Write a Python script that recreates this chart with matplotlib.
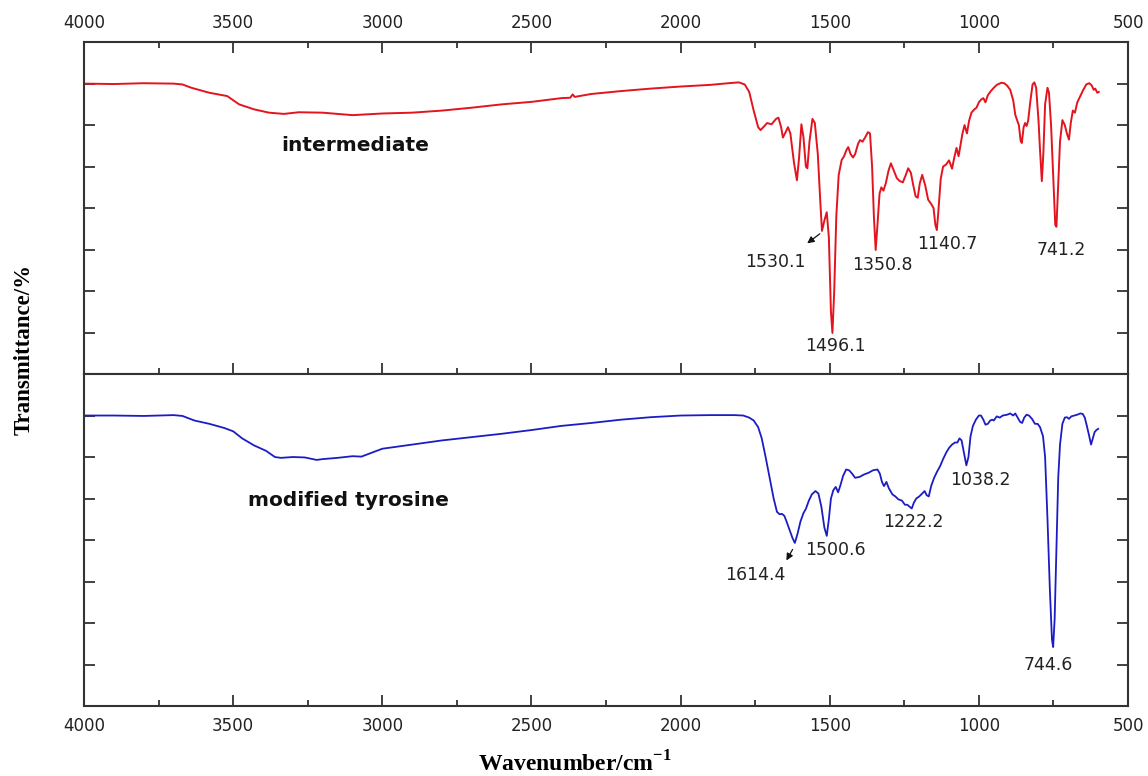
import numpy as np
import matplotlib.pyplot as plt
from matplotlib.ticker import MultipleLocator

# FTIR spectra (wavenumber in cm-1, transmittance in arbitrary units)
inter_wn = [4000, 3900, 3800, 3700, 3670, 3640, 3580, 3520, 3480, 3430, 3380, 3330, 3280, 3200,
            3100, 3000, 2900, 2800, 2700, 2600, 2500, 2400, 2370, 2362, 2355, 2300, 2200, 2100,
            2000, 1900, 1840, 1805, 1785, 1770, 1755, 1740, 1732, 1720, 1710, 1695, 1680, 1672,
            1663, 1657, 1650, 1640, 1632, 1620, 1610, 1603, 1595, 1588, 1580, 1575, 1568, 1558,
            1550, 1540, 1532, 1526, 1518, 1510, 1503, 1496, 1491, 1485, 1478, 1470, 1460, 1452,
            1444, 1438, 1430, 1422, 1415, 1405, 1398, 1390, 1380, 1372, 1365, 1358, 1352, 1346,
            1340, 1333, 1327, 1320, 1312, 1303, 1295, 1285, 1275, 1265, 1255, 1245, 1237, 1228,
            1220, 1212, 1205, 1198, 1190, 1180, 1170, 1160, 1152, 1146, 1141, 1136, 1128, 1120,
            1110, 1100, 1090, 1083, 1075, 1068, 1062, 1055, 1048, 1040, 1033, 1025, 1015, 1008,
            1000, 992, 985, 978, 970, 960, 950, 940, 925, 915, 905, 895, 885, 878, 872, 866,
            860, 856, 850, 845, 840, 835, 827, 820, 814, 808, 800, 795, 789, 784, 778, 770,
            765, 758, 750, 744, 740, 735, 728, 720, 712, 705, 698, 692, 685, 678, 670, 660,
            650, 640, 630, 622, 615, 610, 603, 598]
inter_t = [7.00, 6.99, 7.01, 7.00, 6.98, 6.90, 6.78, 6.70, 6.50, 6.38, 6.30, 6.27, 6.31, 6.30,
           6.24, 6.28, 6.30, 6.35, 6.42, 6.50, 6.56, 6.65, 6.66, 6.74, 6.68, 6.75, 6.82, 6.88,
           6.93, 6.97, 7.01, 7.03, 6.98, 6.80, 6.35, 5.95, 5.88, 5.97, 6.05, 6.02, 6.15, 6.18,
           5.95, 5.70, 5.80, 5.95, 5.80, 5.10, 4.67, 5.20, 6.02, 5.70, 5.00, 4.96, 5.60, 6.15,
           6.05, 5.30, 4.20, 3.45, 3.70, 3.90, 3.30, 1.50, 0.99, 2.00, 3.80, 4.80, 5.16, 5.25,
           5.40, 5.47, 5.30, 5.22, 5.30, 5.55, 5.64, 5.60, 5.72, 5.83, 5.80, 5.00, 3.80, 2.99,
           3.60, 4.35, 4.50, 4.42, 4.60, 4.90, 5.08, 4.90, 4.72, 4.65, 4.62, 4.80, 4.96, 4.85,
           4.55, 4.28, 4.25, 4.60, 4.80, 4.55, 4.20, 4.10, 4.00, 3.60, 3.47, 3.90, 4.70, 5.00,
           5.05, 5.15, 4.95, 5.20, 5.45, 5.25, 5.50, 5.80, 6.00, 5.80, 6.10, 6.30, 6.38, 6.42,
           6.55, 6.62, 6.65, 6.55, 6.72, 6.82, 6.90, 6.97, 7.02, 7.01, 6.95, 6.85, 6.60, 6.25, 6.12, 6.00,
           5.62, 5.57, 5.95, 6.05, 5.98, 6.10, 6.60, 6.98, 7.03, 6.90, 6.10, 5.40, 4.65, 5.30, 6.50, 6.90,
           6.78, 6.00, 4.60, 3.60, 3.55, 4.40, 5.60, 6.12, 6.00, 5.80, 5.65, 6.05, 6.35, 6.30, 6.55, 6.70,
           6.85, 6.98, 7.01, 6.96, 6.85, 6.88, 6.78, 6.80]

tyr_wn = [4000, 3900, 3800, 3700, 3670, 3630, 3580, 3530, 3500, 3470, 3430, 3390, 3360, 3340,
          3300, 3260, 3220, 3200, 3150, 3100, 3070, 3030, 3000, 2950, 2900, 2800, 2700, 2600,
          2500, 2400, 2300, 2200, 2100, 2000, 1900, 1820, 1790, 1770, 1755, 1740, 1728, 1715,
          1700, 1688, 1677, 1668, 1660, 1652, 1645, 1635, 1625, 1617, 1608, 1598, 1588, 1580,
          1570, 1560, 1548, 1538, 1528, 1518, 1510, 1503, 1496, 1488, 1480, 1472, 1465, 1455,
          1445, 1435, 1425, 1415, 1400, 1385, 1370, 1355, 1340, 1332, 1325, 1318, 1310, 1302,
          1290, 1280, 1270, 1258, 1248, 1240, 1232, 1225, 1218, 1210, 1200, 1190, 1182, 1175,
          1168, 1160, 1150, 1140, 1130, 1120, 1110, 1100, 1090, 1080, 1072, 1065, 1058, 1050,
          1042, 1035, 1028, 1020, 1010, 1000, 993, 985, 978, 970, 962, 955, 950, 940, 930,
          920, 905, 895, 885, 878, 870, 862, 855, 848, 840, 832, 822, 812, 803, 795, 785, 778,
          770, 762, 755, 751, 746, 740, 734, 728, 720, 712, 705, 698, 690, 680, 670, 660, 652,
          645, 638, 630, 624, 618, 612, 606, 600]
tyr_t = [7.00, 7.00, 6.99, 7.01, 6.99, 6.88, 6.80, 6.70, 6.62, 6.45, 6.28, 6.15, 6.00, 5.98,
         6.00, 5.99, 5.93, 5.95, 5.98, 6.02, 6.01, 6.12, 6.20, 6.25, 6.30, 6.40, 6.48, 6.56,
         6.65, 6.75, 6.82, 6.90, 6.96, 7.00, 7.01, 7.01, 7.00, 6.95, 6.88, 6.72, 6.45, 6.00,
         5.45, 5.00, 4.68, 4.62, 4.63, 4.58, 4.45, 4.25, 4.05, 3.93, 4.15, 4.45, 4.65, 4.75,
         4.95, 5.10, 5.18, 5.12, 4.80, 4.30, 4.10, 4.50, 5.00, 5.20, 5.28, 5.15, 5.30, 5.55,
         5.70, 5.68, 5.60, 5.50, 5.52, 5.58, 5.62, 5.68, 5.70, 5.60, 5.40, 5.30, 5.40, 5.25,
         5.10, 5.05, 4.98, 4.95, 4.85, 4.85, 4.80, 4.76, 4.90, 5.00, 5.05, 5.12, 5.18, 5.08,
         5.05, 5.30, 5.50, 5.65, 5.78, 5.95, 6.10, 6.22, 6.30, 6.35, 6.35, 6.45, 6.40, 6.10,
         5.80, 6.00, 6.50, 6.75, 6.90, 7.00, 7.00, 6.90, 6.78, 6.80, 6.88, 6.90, 6.88, 6.98, 6.95,
         7.00, 7.02, 7.05, 7.00, 7.05, 6.95, 6.85, 6.82, 6.95, 7.02, 7.00, 6.92, 6.80, 6.80, 6.72, 6.50, 6.00,
         4.50, 2.80, 1.60, 1.42, 2.10, 3.80, 5.50, 6.30, 6.80, 6.95, 6.96, 6.92, 6.98, 7.00, 7.02, 7.05, 7.04,
         6.95, 6.75, 6.50, 6.30, 6.45, 6.60, 6.65, 6.68]

# peak labels: (text, x, y)
inter_labels = [("1530.1", 1683, 2.70), ("1496.1", 1482, 0.67), ("1350.8", 1325, 2.63),
                ("1140.7", 1107, 3.13), ("741.2", 722, 2.99)]
tyr_labels = [("1614.4", 1751, 3.16), ("1500.6", 1482, 3.76), ("1222.2", 1221, 4.43),
              ("1038.2", 996, 5.45), ("744.6", 768, 0.99)]

red = "#e3141e"
blue = "#1c1cc4"
spine_c = "#333333"

plt.rcParams['font.family'] = ['DejaVu Sans']
plt.rcParams['mathtext.fontset'] = 'custom'
plt.rcParams['mathtext.rm'] = 'Liberation Serif:bold'
plt.rcParams['mathtext.bf'] = 'Liberation Serif:bold'

fig = plt.figure(figsize=(11.48, 7.76), dpi=100)
ax1 = fig.add_axes([0.0732, 0.518, 0.9094, 0.4277])
ax2 = fig.add_axes([0.0732, 0.0902, 0.9094, 0.4278])

ax1.plot(inter_wn, inter_t, color=red, lw=1.4)
ax2.plot(tyr_wn, tyr_t, color=blue, lw=1.3)

for ax in (ax1, ax2):
    ax.set_xlim(4000, 500)
    ax.set_ylim(0, 8)
    ax.xaxis.set_major_locator(MultipleLocator(500))
    ax.xaxis.set_minor_locator(MultipleLocator(250))
    for s in ax.spines.values():
        s.set_color(spine_c)
        s.set_linewidth(1.5)
    ax.tick_params(axis='both', which='major', direction='in', length=8, width=1.3,
                   color=spine_c, labelsize=12, labelcolor='#222222')
    ax.tick_params(axis='x', which='minor', direction='in', length=4, width=1.3, color=spine_c)
    ax.tick_params(axis='y', left=True, right=True)

ax1.set_yticks([1, 2, 3, 4, 5, 6, 7])
ax2.set_yticks([1, 2, 3, 4, 5, 6, 7])
ax1.set_yticklabels([])
ax2.set_yticklabels([])

ax1.tick_params(axis='x', which='both', top=True, bottom=True, labeltop=True, labelbottom=False)
ax2.tick_params(axis='x', which='both', top=False, bottom=True, labeltop=False, labelbottom=True)
ax1.tick_params(axis='x', pad=7)
ax2.tick_params(axis='x', pad=8)

ax1.text(3092, 5.52, "intermediate", ha='center', va='center', fontsize=14.5,
         fontweight='bold', color='#111111')
ax2.text(3115, 4.96, "modified tyrosine", ha='center', va='center', fontsize=14.5,
         fontweight='bold', color='#111111')

for txt, x, y in inter_labels:
    ax1.text(x, y, txt, ha='center', va='center', fontsize=12.5, color='#222222')
for txt, x, y in tyr_labels:
    ax2.text(x, y, txt, ha='center', va='center', fontsize=12.5, color='#222222')

ax1.annotate("", xy=(1583, 3.11), xytext=(1526, 3.42),
             arrowprops=dict(arrowstyle='-|>', color='#111111', lw=0.9, mutation_scale=10))
ax2.annotate("", xy=(1650, 3.45), xytext=(1620, 3.83),
             arrowprops=dict(arrowstyle='-|>', color='#111111', lw=0.9, mutation_scale=10))

fig.text(0.021, 0.549, "Transmittance/%", rotation=90, ha='center', va='center',
         fontsize=16.5, fontweight='bold', family='Liberation Serif')
fig.text(0.501, 0.016, r"Wavenumber/cm$^{\mathrm{-1}}$", ha='center', va='center',
         fontsize=17, fontweight='bold', family='Liberation Serif')

fig.savefig("out.png", dpi=100)
